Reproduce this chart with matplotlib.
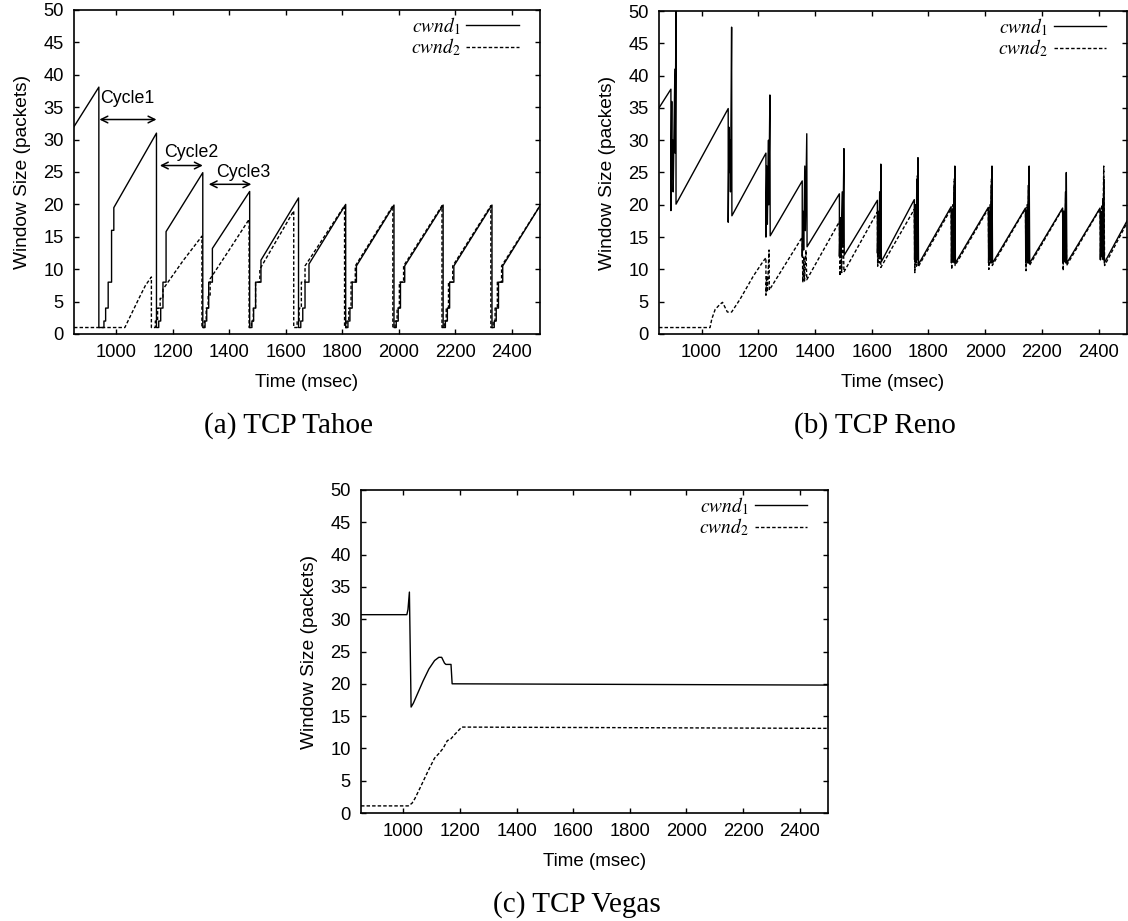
import matplotlib.pyplot as plt

plt.rcParams['font.family'] = ['Liberation Sans', 'DejaVu Sans']
plt.rcParams['mathtext.fontset'] = 'stix'

# ---- TCP Tahoe ----
tahoe_t1 = [850, 938,
            938, 956, 956, 962, 962, 971, 971, 983, 983, 991, 991, 1142,
            1142, 1150, 1150, 1157, 1157, 1165, 1165, 1176, 1176, 1306,
            1306, 1314, 1314, 1320, 1320, 1327, 1327, 1340, 1340, 1472,
            1472, 1480, 1480, 1486, 1486, 1493, 1493, 1512, 1512, 1645,
            1645, 1653, 1653, 1660, 1660, 1668, 1668, 1682, 1682, 1812,
            1812, 1820, 1820, 1827, 1827, 1835, 1835, 1850, 1850, 1983,
            1983, 1991, 1991, 1998, 1998, 2006, 2006, 2021, 2021, 2157,
            2157, 2165, 2165, 2172, 2172, 2180, 2180, 2195, 2195, 2330,
            2330, 2338, 2338, 2345, 2345, 2353, 2353, 2368, 2368, 2500]
tahoe_w1 = [32.0, 38.1,
            1, 1, 2, 2, 4, 4, 8, 8, 16, 16, 19.5, 31.0,
            1, 1, 2, 2, 4, 4, 8, 8, 15.8, 24.9,
            1, 1, 2, 2, 4, 4, 8, 8, 13.2, 22.0,
            1, 1, 2, 2, 4, 4, 8, 8, 11.4, 21.0,
            1, 1, 2, 2, 4, 4, 8, 8, 10.8, 20.0,
            1, 1, 2, 2, 4, 4, 8, 8, 10.5, 19.9,
            1, 1, 2, 2, 4, 4, 8, 8, 10.5, 19.9,
            1, 1, 2, 2, 4, 4, 8, 8, 10.5, 19.9,
            1, 1, 2, 2, 4, 4, 8, 8, 10.5, 19.8]

tahoe_t2 = [850, 1030, 1050, 1080, 1103, 1124,
            1124, 1138, 1138, 1146, 1146, 1155, 1155, 1165, 1165, 1236, 1303,
            1303, 1311, 1311, 1318, 1318, 1325, 1325, 1332, 1332, 1400, 1470,
            1470, 1478, 1478, 1485, 1485, 1493, 1493, 1508, 1508, 1628,
            1628, 1640, 1640, 1647, 1647, 1655, 1655, 1668, 1668, 1808,
            1808, 1816, 1816, 1823, 1823, 1831, 1831, 1846, 1846, 1979,
            1979, 1987, 1987, 1994, 1994, 2002, 2002, 2017, 2017, 2153,
            2153, 2161, 2161, 2168, 2168, 2176, 2176, 2191, 2191, 2326,
            2326, 2334, 2334, 2341, 2341, 2349, 2349, 2364, 2364, 2500]
tahoe_w2 = [1, 1, 2.8, 5.5, 7.5, 8.8,
            1, 1, 2, 2, 4, 4, 5.5, 5.5, 6.9, 11.3, 15.1,
            1, 1, 2, 2, 4, 4, 6, 6, 8.5, 13.0, 17.7,
            1, 1, 2, 2, 4, 4, 8, 8, 10.0, 19.0,
            1, 1, 2, 2, 4, 4, 8, 8, 10.5, 19.8,
            1, 1, 2, 2, 4, 4, 8, 8, 10.5, 19.8,
            1, 1, 2, 2, 4, 4, 8, 8, 10.5, 19.8,
            1, 1, 2, 2, 4, 4, 8, 8, 10.5, 19.8,
            1, 1, 2, 2, 4, 4, 8, 8, 10.5, 19.8]

# cycle arrows (start, end, height) and their labels
cycle_names = ['Cycle1', 'Cycle2', 'Cycle3']
cycle_start = [940, 1154, 1327]
cycle_end = [1142, 1306, 1478]
cycle_arrow_y = [33.1, 26.0, 23.1]
cycle_text_x = [1040, 1265, 1451]
cycle_text_y = [36.3, 28.0, 24.9]

# ---- TCP Reno ----
reno_t1 = [850, 892,
           892, 895, 896, 899, 900, 906, 907, 910, 910, 1094,
           1094, 1097, 1098, 1101, 1102, 1106, 1107, 1227,
           1227, 1230, 1232, 1236, 1237, 1241, 1242, 1355,
           1355, 1358, 1360, 1364, 1366, 1371, 1372, 1486,
           1486, 1489, 1491, 1496, 1498, 1502, 1503, 1620,
           1620, 1623, 1625, 1628, 1630, 1632, 1634, 1750,
           1751, 1754, 1756, 1759, 1761, 1763, 1765, 1880,
           1881, 1884, 1886, 1890, 1891, 1893, 1895, 2011,
           2012, 2015, 2017, 2021, 2022, 2024, 2026, 2142,
           2143, 2146, 2148, 2152, 2153, 2155, 2157, 2273,
           2274, 2277, 2279, 2283, 2284, 2286, 2288, 2405,
           2406, 2409, 2411, 2415, 2416, 2418, 2420, 2500]
reno_w1 = [35.0, 37.9,
           19.1, 36.0, 24.0, 30.0, 22.0, 41.0, 28.0, 52.0, 20.1, 34.9,
           17.3, 32.0, 25.0, 30.0, 22.0, 47.5, 18.3, 28.0,
           15.0, 26.0, 17.0, 30.0, 20.0, 37.0, 15.2, 23.7,
           12.0, 19.0, 13.0, 26.0, 16.0, 31.0, 13.5, 21.7,
           12.0, 18.0, 12.5, 22.0, 14.0, 28.7, 12.2, 20.7,
           12.5, 19.0, 13.0, 22.0, 12.0, 26.3, 11.2, 20.8,
           11.5, 20.0, 11.0, 24.0, 11.5, 27.3, 10.8, 19.7,
           11.0, 19.0, 11.5, 23.0, 11.0, 26.0, 11.0, 19.6,
           11.0, 19.0, 11.5, 23.0, 11.0, 26.0, 11.0, 19.5,
           11.0, 19.0, 11.5, 23.0, 11.0, 26.0, 11.0, 19.5,
           11.0, 19.0, 11.5, 22.0, 11.0, 25.0, 11.0, 19.5,
           11.5, 19.0, 12.0, 21.0, 11.5, 24.0, 11.0, 17.5]

reno_t2 = [850, 1030, 1036, 1048, 1065, 1074, 1091, 1106, 1136, 1183, 1218, 1227,
           1227, 1230, 1232, 1238, 1239, 1355,
           1357, 1361, 1363, 1368, 1371, 1486,
           1488, 1492, 1494, 1499, 1502, 1620,
           1621, 1625, 1627, 1630, 1632, 1750,
           1752, 1756, 1758, 1761, 1764, 1880,
           1882, 1886, 1888, 1891, 1894, 2011,
           2013, 2017, 2019, 2022, 2025, 2142,
           2144, 2148, 2150, 2153, 2156, 2273,
           2275, 2279, 2281, 2284, 2287, 2405,
           2407, 2412, 2414, 2418, 2421, 2500]
reno_w2 = [1, 1, 2.3, 3.8, 4.6, 4.9, 3.4, 3.4, 5.4, 9.0, 11.3, 11.8,
           6.0, 9.0, 6.5, 13.0, 6.8, 15.0,
           8.0, 12.0, 8.2, 13.0, 8.4, 17.4,
           9.0, 13.0, 9.5, 17.5, 9.6, 18.9,
           10.5, 16.0, 11.0, 20.0, 10.3, 19.3,
           9.5, 18.0, 10.5, 24.5, 10.4, 19.4,
           10.0, 20.0, 11.0, 24.0, 10.6, 19.4,
           10.0, 20.0, 11.0, 24.0, 10.6, 19.4,
           9.8, 20.0, 11.0, 23.0, 10.6, 19.4,
           9.8, 19.0, 11.0, 22.0, 10.6, 19.4,
           11.5, 20.0, 12.0, 26.0, 10.6, 17.2]

# ---- TCP Vegas ----
vegas_t1 = [850, 1012, 1016, 1021, 1027, 1035, 1050, 1070, 1090, 1110, 1125,
            1135, 1145, 1150, 1168, 1172, 2500]
vegas_w1 = [30.7, 30.7, 31.5, 34.2, 16.4, 17.0, 18.5, 20.5, 22.3, 23.6, 24.1,
            24.1, 23.2, 23.0, 23.0, 20.0, 19.8]
vegas_t2 = [850, 1017, 1030, 1040, 1060, 1088, 1110, 1125, 1140, 1155, 1168,
            1182, 1206, 2500]
vegas_w2 = [1.1, 1.1, 1.5, 2.2, 4.0, 6.6, 8.5, 9.2, 10.0, 11.2, 11.5,
            12.2, 13.3, 13.1]

time_ticks = [1000, 1200, 1400, 1600, 1800, 2000, 2200, 2400]
window_ticks = [0, 5, 10, 15, 20, 25, 30, 35, 40, 45, 50]

W, H = 1128, 921
fig = plt.figure(figsize=(W / 100, H / 100), dpi=100)


def panel(left, right, top, bottom):
    return fig.add_axes([left / W, 1 - bottom / H, (right - left) / W, (bottom - top) / H])


def draw(ax, t1, w1, t2, w2, caption, left, right, top, bottom):
    ax.plot(t1, w1, color='black', lw=1.0, label=r'$cwnd_1$')
    ax.plot(t2, w2, color='black', lw=1.0, ls=(0, (2.5, 1.5)), label=r'$cwnd_2$')
    ax.set_xlim(850, 2500)
    ax.set_ylim(0, 50)
    ax.set_xticks(time_ticks)
    ax.set_yticks(window_ticks)
    ax.tick_params(direction='in', top=True, right=True, length=3.3, width=1,
                   labelsize=13.2, pad=7.5)
    for s in ax.spines.values():
        s.set_linewidth(1.2)
    ax.set_xlabel('Time (msec)', fontsize=13.5, labelpad=9)
    ax.set_ylabel('Window Size (packets)', fontsize=13.8, labelpad=9)
    wpx, hpx = right - left, bottom - top
    ax.legend(loc='upper right', frameon=False, markerfirst=False, fontsize=14,
              handlelength=2.7, handletextpad=0.3, labelspacing=0.0,
              borderaxespad=0, borderpad=0,
              bbox_to_anchor=(1 - 21 / wpx, 1 - 5 / hpx))
    fig.text(((left + right) / 2 - 18) / W, 1 - (bottom + 92) / H, caption,
             family='Liberation Serif', fontsize=21, ha='center', va='center')


ax_a = panel(74, 540, 10, 334)
draw(ax_a, tahoe_t1, tahoe_w1, tahoe_t2, tahoe_w2, '(a) TCP Tahoe', 74, 540, 10, 334)
for name, x0, x1, ya, tx, ty in zip(cycle_names, cycle_start, cycle_end,
                                    cycle_arrow_y, cycle_text_x, cycle_text_y):
    ax_a.annotate('', xy=(x0, ya), xytext=(x1, ya),
                  arrowprops=dict(arrowstyle='<->', color='black', lw=1.1,
                                  shrinkA=0, shrinkB=0, mutation_scale=12))
    ax_a.text(tx, ty, name, fontsize=12.8, ha='center', va='center')

ax_b = panel(659, 1127, 11, 334)
draw(ax_b, reno_t1, reno_w1, reno_t2, reno_w2, '(b) TCP Reno', 659, 1127, 11, 334)

ax_c = panel(361, 828, 490, 813)
draw(ax_c, vegas_t1, vegas_w1, vegas_t2, vegas_w2, '(c) TCP Vegas', 361, 828, 490, 813)

fig.savefig('out.png', dpi=100)
